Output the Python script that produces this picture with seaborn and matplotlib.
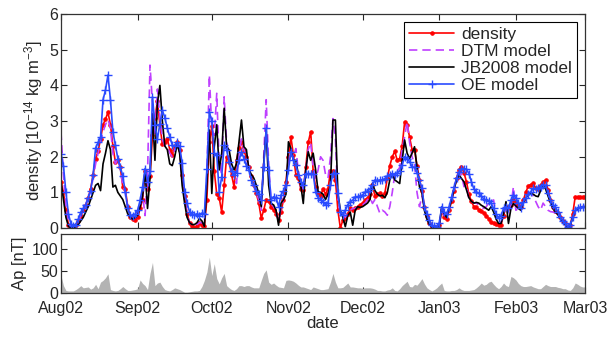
import numpy as np
import pandas as pd
import seaborn as sns
import matplotlib.pyplot as plt
import matplotlib.dates as mdates

# daily values, 1 Aug 2002 .. 1 Mar 2003
density = [
    1.30, 1.00, 0.50, 0.10, 0.02, 0.02, 0.10, 0.20, 0.35, 0.50,
    0.65, 0.85, 1.10, 1.50, 1.95, 2.15, 2.50, 2.90, 3.05, 3.25,
    2.90, 2.30, 1.85, 1.90, 1.70, 1.15, 1.10, 0.60, 0.32, 0.25,
    0.22, 0.30, 0.55, 0.80, 1.60, 1.10, 1.45, 2.60, 3.10, 3.55,
    2.90, 2.35, 2.40, 2.50, 2.20, 2.05, 2.30, 2.40, 2.20, 1.50,
    0.90, 0.40, 0.15, 0.05, 0.00, 0.05, 0.15, 0.10, 0.05, 0.80,
    2.40, 2.85, 1.60, 0.95, 0.85, 0.45, 1.20, 2.00, 1.85, 1.50,
    1.15, 1.90, 2.25, 2.40, 2.15, 2.00, 1.70, 1.45, 1.20, 0.97,
    0.70, 0.28, 0.50, 0.80, 0.75, 0.60, 0.50, 0.40, 0.22, 0.45,
    0.80, 1.30, 2.00, 2.55, 2.05, 1.50, 1.40, 1.10, 1.07, 1.70,
    2.40, 2.70, 1.60, 1.15, 0.95, 0.90, 1.10, 0.95, 1.10, 1.60,
    1.60, 1.35, 0.50, 0.00, 0.22, 0.28, 0.40, 0.55, 0.50, 0.55,
    0.60, 0.65, 0.70, 0.78, 0.85, 0.95, 1.20, 0.90, 0.95, 0.97,
    0.90, 0.98, 1.40, 1.75, 2.00, 2.15, 1.90, 1.95, 2.30, 2.98,
    2.90, 2.55, 2.20, 2.20, 1.75, 1.35, 1.05, 0.60, 0.35, 0.13,
    0.04, 0.03, 0.04, 0.08, 0.50, 0.30, 0.25, 0.50, 0.75, 1.05,
    1.40, 1.63, 1.72, 1.55, 1.30, 0.95, 0.75, 0.60, 0.58, 0.52,
    0.48, 0.42, 0.35, 0.26, 0.18, 0.13, 0.12, 0.10, 0.10, 0.35,
    0.60, 0.55, 0.65, 0.80, 0.72, 0.65, 0.60, 0.78, 1.00, 1.18,
    1.22, 1.25, 1.12, 1.10, 1.20, 1.28, 1.35, 1.07, 0.80, 0.58,
    0.48, 0.41, 0.30, 0.20, 0.13, 0.02, 0.08, 0.40, 0.88, 0.87,
    0.86, 0.86, 0.86,
]

dtm = [
    2.70, 1.50, 0.60, 0.15, 0.05, 0.05, 0.10, 0.20, 0.35, 0.50,
    0.65, 0.85, 1.05, 1.40, 1.80, 2.10, 2.40, 2.70, 2.90, 3.05,
    2.80, 2.10, 1.80, 1.95, 1.65, 1.20, 1.00, 0.55, 0.30, 0.25,
    0.30, 0.45, 0.70, 0.95, 0.35, 1.50, 4.57, 3.50, 2.60, 3.90,
    3.10, 2.50, 2.30, 2.30, 2.10, 2.00, 2.20, 2.30, 2.10, 1.40,
    0.80, 0.40, 0.15, 0.10, 0.05, 0.10, 0.15, 0.15, 0.10, 1.50,
    4.29, 2.80, 2.60, 3.78, 1.80, 1.50, 3.68, 2.40, 2.00, 1.60,
    1.50, 1.25, 2.10, 2.50, 2.20, 2.00, 1.70, 1.40, 1.20, 1.00,
    0.80, 0.50, 2.00, 3.60, 1.80, 0.70, 0.60, 0.45, 0.20, 0.55,
    0.80, 1.20, 1.90, 2.20, 2.00, 2.23, 1.60, 1.30, 1.10, 1.60,
    2.20, 2.40, 1.70, 1.40, 1.63, 2.00, 1.90, 1.50, 1.40, 2.00,
    3.07, 2.50, 0.80, 0.40, 0.45, 0.30, 0.40, 0.50, 0.55, 0.55,
    0.60, 0.62, 0.65, 0.70, 0.80, 0.85, 0.69, 0.80, 0.60, 0.41,
    0.50, 0.45, 0.36, 0.60, 1.00, 1.50, 1.60, 1.70, 2.20, 2.56,
    2.98, 2.40, 2.00, 1.80, 1.00, 0.60, 0.90, 0.55, 0.30, 0.10,
    0.05, 0.03, 0.05, 0.10, 0.50, 0.35, 0.30, 0.50, 0.80, 1.10,
    1.40, 1.55, 1.50, 1.16, 1.20, 0.80, 0.75, 0.70, 0.70, 0.65,
    0.60, 0.55, 0.60, 0.70, 0.75, 0.79, 0.30, 0.15, 0.15, 0.40,
    0.55, 0.40, 0.60, 1.16, 0.50, 0.55, 0.60, 0.70, 0.85, 0.95,
    1.00, 0.90, 0.75, 0.60, 0.50, 0.70, 0.60, 0.50, 0.46, 0.45,
    0.42, 0.40, 0.30, 0.20, 0.10, 0.03, 0.08, 0.30, 0.50, 0.55,
    0.60, 0.60, 0.60,
]

jb2008 = [
    1.30, 0.80, 0.30, 0.05, 0.00, 0.00, 0.05, 0.10, 0.20, 0.30,
    0.45, 0.60, 0.80, 1.00, 1.20, 1.25, 1.05, 1.80, 2.10, 2.45,
    2.20, 1.15, 1.20, 1.00, 0.90, 0.80, 0.60, 0.40, 0.30, 0.25,
    0.30, 0.35, 0.60, 0.90, 1.60, 0.55, 1.40, 3.20, 1.90, 3.50,
    4.00, 3.00, 2.30, 2.20, 1.80, 1.75, 2.00, 2.35, 2.10, 1.20,
    0.70, 0.30, 0.15, 0.10, 0.10, 0.15, 0.27, 0.20, 0.05, 1.20,
    2.75, 0.97, 2.28, 2.90, 1.63, 2.10, 3.36, 2.28, 2.19, 1.80,
    1.63, 1.81, 2.42, 3.03, 2.28, 2.20, 1.63, 1.50, 1.40, 1.20,
    0.97, 0.60, 1.81, 2.75, 1.20, 0.69, 0.65, 0.50, 0.08, 0.70,
    0.79, 0.95, 2.42, 2.23, 1.90, 1.90, 1.50, 1.20, 0.69, 1.63,
    2.14, 1.90, 2.10, 1.63, 1.02, 1.00, 0.95, 0.80, 0.95, 1.20,
    3.03, 3.03, 0.97, 0.50, 0.30, 0.04, 0.35, 0.45, 0.08, 0.50,
    0.60, 0.58, 0.60, 0.65, 0.70, 0.80, 1.25, 1.05, 0.95, 0.90,
    0.92, 0.85, 1.00, 1.35, 1.53, 1.35, 1.30, 1.25, 1.90, 2.47,
    2.10, 1.95, 2.10, 2.28, 1.70, 1.16, 1.00, 0.50, 0.25, 0.10,
    0.03, 0.00, 0.02, 0.04, 0.60, 0.40, 0.30, 0.55, 0.80, 1.10,
    1.35, 1.49, 1.39, 1.30, 1.07, 0.85, 0.75, 0.70, 0.72, 0.70,
    0.64, 0.60, 0.55, 0.50, 0.60, 0.45, 0.25, 0.13, 0.13, 0.40,
    0.74, 0.13, 0.55, 0.69, 0.62, 0.55, 0.50, 0.70, 0.85, 0.92,
    0.97, 0.95, 0.90, 0.88, 1.05, 1.20, 1.10, 0.90, 0.72, 0.55,
    0.45, 0.38, 0.28, 0.18, 0.10, 0.03, 0.08, 0.30, 0.48, 0.53,
    0.58, 0.60, 0.60,
]

oe = [
    2.09, 1.74, 1.00, 0.40, 0.12, 0.05, 0.10, 0.25, 0.45, 0.55,
    0.65, 0.85, 1.05, 1.50, 2.25, 2.40, 2.55, 3.60, 3.87, 4.29,
    3.60, 2.70, 2.33, 1.95, 1.72, 1.45, 1.02, 0.55, 0.36, 0.35,
    0.39, 0.50, 0.78, 1.16, 1.67, 1.30, 1.60, 3.68, 2.90, 2.50,
    2.93, 3.30, 3.10, 2.80, 2.56, 2.33, 2.30, 2.40, 2.30, 1.82,
    1.02, 0.69, 0.46, 0.40, 0.37, 0.40, 0.35, 0.42, 0.40, 1.65,
    3.26, 3.00, 2.10, 2.05, 1.00, 1.44, 2.33, 2.19, 1.86, 1.60,
    1.49, 1.55, 1.90, 2.14, 1.95, 1.75, 1.63, 1.35, 1.20, 1.05,
    0.95, 0.79, 1.72, 2.80, 1.63, 0.80, 0.88, 0.85, 0.60, 0.93,
    1.05, 1.20, 1.63, 2.14, 1.90, 1.77, 1.50, 1.30, 1.20, 1.53,
    1.53, 1.53, 1.53, 1.00, 0.85, 0.80, 0.74, 0.65, 0.70, 1.20,
    1.53, 1.55, 0.97, 0.46, 0.36, 0.50, 0.65, 0.74, 0.78, 0.88,
    0.88, 0.90, 0.93, 1.00, 1.05, 1.10, 1.20, 1.35, 1.33, 1.35,
    1.35, 1.39, 1.45, 1.50, 1.53, 1.50, 1.55, 1.60, 1.77, 2.00,
    1.95, 1.86, 1.72, 1.70, 1.55, 1.35, 1.11, 0.60, 0.40, 0.22,
    0.08, 0.05, 0.04, 0.13, 0.60, 0.45, 0.40, 0.60, 0.88, 1.15,
    1.40, 1.58, 1.67, 1.67, 1.65, 1.53, 1.30, 1.10, 1.02, 0.97,
    0.90, 0.82, 0.78, 0.75, 0.69, 0.55, 0.40, 0.27, 0.35, 0.55,
    0.60, 0.55, 0.79, 0.93, 0.85, 0.70, 0.55, 0.74, 0.85, 0.95,
    1.02, 1.11, 1.10, 1.12, 1.16, 1.22, 1.20, 0.97, 0.79, 0.65,
    0.58, 0.46, 0.30, 0.20, 0.13, 0.04, 0.08, 0.30, 0.50, 0.55,
    0.58, 0.60, 0.60,
]

ap = [
    40, 17, 6, 5, 5, 5, 8, 12, 17, 12,
    13, 14, 9, 12, 20, 10, 25, 29, 35, 44,
    8, 6, 5, 6, 10, 15, 10, 6, 6, 7,
    8, 10, 30, 22, 17, 8, 45, 70, 17, 23,
    25, 15, 8, 6, 5, 8, 12, 10, 8, 5,
    2, 2, 3, 4, 5, 5, 6, 15, 29, 48,
    82, 40, 67, 33, 21, 35, 45, 17, 12, 8,
    6, 10, 17, 17, 15, 17, 17, 14, 12, 12,
    12, 29, 45, 53, 25, 20, 23, 18, 14, 13,
    12, 29, 30, 29, 27, 23, 18, 14, 14, 12,
    10, 8, 14, 12, 10, 8, 8, 9, 10, 25,
    45, 25, 12, 12, 13, 18, 23, 14, 14, 13,
    12, 12, 11, 12, 12, 12, 11, 9, 6, 6,
    5, 5, 7, 8, 12, 6, 5, 10, 17, 22,
    27, 15, 14, 20, 18, 25, 33, 21, 12, 8,
    5, 8, 12, 18, 23, 6, 5, 5, 6, 6,
    8, 12, 8, 6, 6, 6, 7, 8, 12, 17,
    23, 18, 20, 25, 27, 20, 14, 10, 15, 23,
    17, 15, 38, 35, 30, 22, 17, 15, 15, 16,
    17, 14, 12, 10, 10, 15, 20, 17, 15, 15,
    15, 13, 12, 10, 10, 7, 6, 12, 23, 20,
    16, 14, 14,
]

dates = pd.date_range('2002-08-01', periods=len(density), freq='D')
df = pd.DataFrame({'date': dates, 'density': density, 'dtm': dtm,
                   'jb2008': jb2008, 'oe': oe, 'ap': ap})

sns.set_style('ticks')
plt.rcParams['font.family'] = ['Liberation Sans', 'DejaVu Sans']
plt.rcParams['mathtext.default'] = 'regular'
plt.rcParams['font.size'] = 11.5

fig = plt.figure(figsize=(6.13, 3.44), dpi=100)
ax = fig.add_axes([0.0995, 0.337, 0.855, 0.622])
ax2 = fig.add_axes([0.0995, 0.148, 0.855, 0.172], sharex=ax)

# density + models
sns.lineplot(data=df, x='date', y='density', ax=ax, color='#ff0000', lw=1.2,
             marker='.', markersize=5, mec='#ff0000', label='density')
sns.lineplot(data=df, x='date', y='dtm', ax=ax, color='#bf40ff', lw=1.2,
             dashes=(5, 3), label='DTM model')
sns.lineplot(data=df, x='date', y='jb2008', ax=ax, color='black', lw=1.2,
             label='JB2008 model')
sns.lineplot(data=df, x='date', y='oe', ax=ax, color='#2a4bff', lw=1.2,
             marker='+', markersize=6, mec='#2a4bff', mew=1.0, label='OE model')

ax.set_ylim(0, 6)
ax.set_yticks(range(0, 7))
ax.set_ylabel('density [10$^{-14}$ kg m$^{-3}$]', fontsize=12, labelpad=3)
ax.set_xlabel('')
ax.tick_params(labelbottom=False)
ax.legend(loc='upper right', fancybox=False, edgecolor='black', framealpha=1,
          handlelength=2.6, borderaxespad=0.45, labelspacing=0.1,
          handletextpad=0.4, borderpad=0.3, fontsize=12.5)
ax.get_legend().get_frame().set_linewidth(0.8)

# Ap index
ax2.fill_between(df['date'], df['ap'], color='#b3b3b3', lw=0)
ax2.set_ylim(0, 135)
ax2.set_yticks([0, 50, 100])
ax2.set_ylabel('Ap [nT]', fontsize=12, labelpad=3)
ax2.set_xlabel('date', fontsize=12, labelpad=0)

ax2.set_xlim(dates[0], dates[-1])
ax2.xaxis.set_major_locator(mdates.MonthLocator())
ax2.xaxis.set_major_formatter(mdates.DateFormatter('%b%y'))

for a in (ax, ax2):
    a.tick_params(direction='in', top=True, right=True, length=4,
                  width=0.8, labelsize=11.5, pad=2)
    for s in a.spines.values():
        s.set_linewidth(0.9)
        s.set_color('#333333')
ax2.tick_params(axis='x', pad=6)

fig.savefig('out.png', dpi=100)
